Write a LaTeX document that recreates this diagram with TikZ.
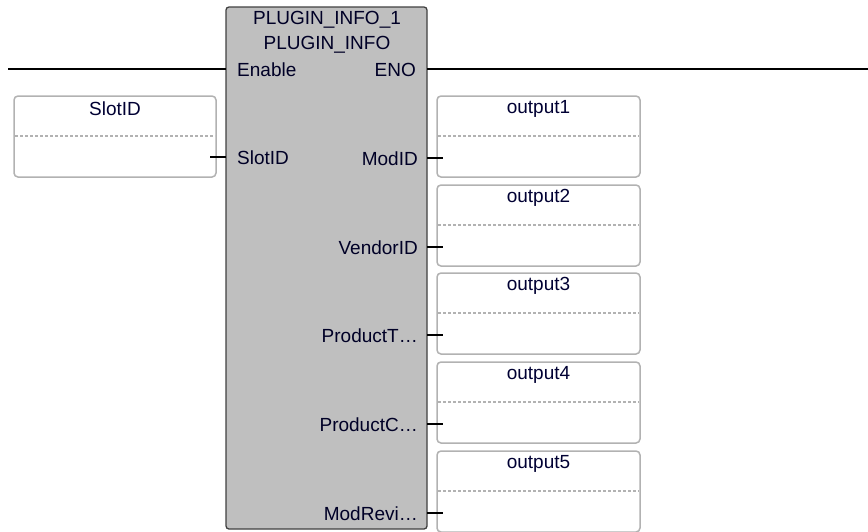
\documentclass[tikz,border=0pt]{standalone}
\usepackage{fontspec}
\setmainfont{Liberation Sans}
\newcommand\myell{…}
\begin{document}
\begin{tikzpicture}[x=1pt,y=-1pt,
  blk/.style={draw=black!75,line width=1.3pt,fill=black!25,rounded corners=3pt},
  varbox/.style={draw=black!30,line width=1.5pt,fill=white,rounded corners=4pt},
  sep/.style={draw=black!30,dash pattern=on 3pt off 2pt,line width=1.2pt},
  wire/.style={draw=black,line width=1.6pt},
  stub/.style={draw=black,line width=1.8pt},
  lbl/.style={font=\fontsize{19}{19}\selectfont,text=black!85!blue,inner sep=0pt},
  vname/.style={font=\fontsize{19}{19}\selectfont,text=black!80!blue,inner sep=0pt}
]
\useasboundingbox (0,0) rectangle (868,531);
% main block
\path[blk] (226,7) rectangle (427,529);
\node[lbl] (title1) at (327,20) {PLUGIN\_INFO\_1};
\node[lbl] (title2) at (327,45) {PLUGIN\_INFO};
% Enable / ENO
\coordinate (en) at (226,69);
\coordinate (eno) at (427,69);
\coordinate (wl) at (8,69);
\coordinate (wr) at (868,69);
\draw[wire] (wl) -- (en);
\draw[wire] (eno) -- (wr);
\node[lbl,anchor=west] (enable) at (237,70) {Enable};
\node[lbl,anchor=east] (enolbl) at (416,70) {ENO};
% SlotID input
\path[varbox] (14,96) rectangle (216,177);
\draw[sep] (15,136) -- (215,136);
\node[vname] (slotname) at (115,109) {SlotID};
\coordinate (sin) at (226,157);
\coordinate (sout) at (210,157);
\draw[stub] (sout) -- (sin);
\node[lbl,anchor=west] (slotpin) at (237,158) {SlotID};
% outputs
\foreach \i/\top/\t/\p in {0/96/output1/ModID,1/185/output2/VendorID,2/273/output3/ProductT\myell,3/362/output4/ProductC\myell,4/451/output5/ModRevi\myell}{
  \path[varbox] (437,\top) rectangle (640,\top+81);
  \draw[sep] (438,\top+40) -- (639,\top+40);
  \node[vname] (o\i) at (538.5,\top+13) {\t};
  \coordinate (pa\i) at (427,\top+62);
  \coordinate (pb\i) at (443,\top+62);
  \draw[stub] (pa\i) -- (pb\i);
  \node[lbl,anchor=east] (pin\i) at (418,\top+63) {\p};
}
\end{tikzpicture}
\end{document}
